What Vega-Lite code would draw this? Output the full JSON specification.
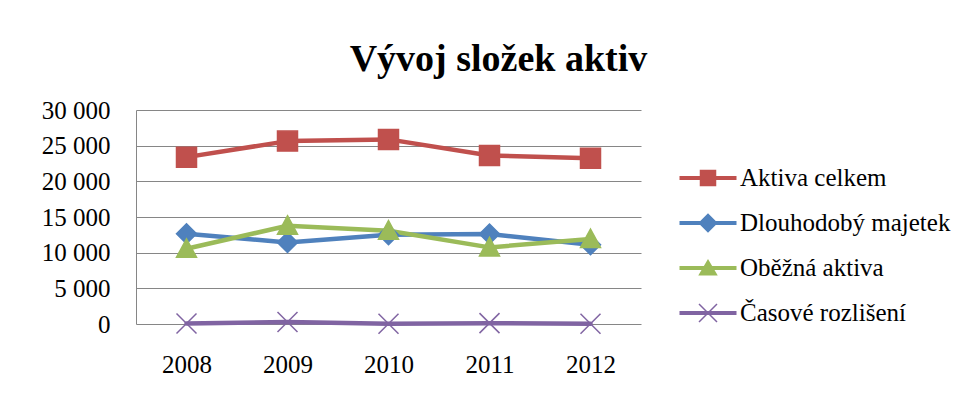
{
  "$schema": "https://vega.github.io/schema/vega-lite/v6.json",
  "autosize": "none",
  "width": 505,
  "height": 214,
  "padding": {"left": 136, "top": 110, "right": 335, "bottom": 77},
  "background": "white",
  "title": {
    "text": "Vývoj složek aktiv",
    "font": "Liberation Serif",
    "fontSize": 38,
    "fontWeight": "bold",
    "color": "black",
    "anchor": "middle",
    "frame": "group",
    "dx": 110,
    "offset": -11,
    "baseline": "alphabetic"
  },
  "config": {
    "view": {"stroke": null},
    "axis": {"labelFont": "Liberation Serif", "labelFontSize": 25, "labelColor": "black"}
  },
  "data": {
    "values": [
      {"rok": "2008", "serie": "Aktiva celkem", "hodnota": 23390},
      {"rok": "2009", "serie": "Aktiva celkem", "hodnota": 25640},
      {"rok": "2010", "serie": "Aktiva celkem", "hodnota": 25880},
      {"rok": "2011", "serie": "Aktiva celkem", "hodnota": 23630},
      {"rok": "2012", "serie": "Aktiva celkem", "hodnota": 23250},
      {"rok": "2008", "serie": "Dlouhodobý majetek", "hodnota": 12660},
      {"rok": "2009", "serie": "Dlouhodobý majetek", "hodnota": 11440},
      {"rok": "2010", "serie": "Dlouhodobý majetek", "hodnota": 12520},
      {"rok": "2011", "serie": "Dlouhodobý majetek", "hodnota": 12610},
      {"rok": "2012", "serie": "Dlouhodobý majetek", "hodnota": 11110},
      {"rok": "2008", "serie": "Oběžná aktiva", "hodnota": 10550},
      {"rok": "2009", "serie": "Oběžná aktiva", "hodnota": 13780},
      {"rok": "2010", "serie": "Oběžná aktiva", "hodnota": 13080},
      {"rok": "2011", "serie": "Oběžná aktiva", "hodnota": 10740},
      {"rok": "2012", "serie": "Oběžná aktiva", "hodnota": 11910},
      {"rok": "2008", "serie": "Časové rozlišení", "hodnota": 80},
      {"rok": "2009", "serie": "Časové rozlišení", "hodnota": 280},
      {"rok": "2010", "serie": "Časové rozlišení", "hodnota": 30},
      {"rok": "2011", "serie": "Časové rozlišení", "hodnota": 120},
      {"rok": "2012", "serie": "Časové rozlišení", "hodnota": 40}
    ]
  },
  "encoding": {
    "x": {
      "field": "rok",
      "type": "ordinal",
      "scale": {"type": "point", "padding": 0.5},
      "axis": {"title": null, "labelAngle": 0, "domain": false, "ticks": false, "labelPadding": 28, "grid": false}
    },
    "y": {
      "field": "hodnota",
      "type": "quantitative",
      "scale": {"domain": [0, 30000], "nice": false},
      "axis": {
        "title": null,
        "values": [0, 5000, 10000, 15000, 20000, 25000, 30000],
        "labelExpr": "replace(format(datum.value, ',d'), ',', ' ')",
        "grid": true,
        "gridColor": "#868686",
        "gridWidth": 1,
        "domain": true,
        "domainColor": "#868686",
        "ticks": false,
        "labelPadding": 26
      }
    }
  },
  "layer": [
    {
      "mark": {"type": "line", "strokeWidth": 4.5, "strokeCap": "round", "strokeJoin": "round"},
      "encoding": {
        "color": {
          "field": "serie",
          "type": "nominal",
          "scale": {
            "domain": ["Aktiva celkem", "Dlouhodobý majetek", "Oběžná aktiva", "Časové rozlišení"],
            "range": ["#C0504D", "#4F81BD", "#9BBB59", "#8064A2"]
          }
        }
      }
    },
    {
      "mark": {"type": "point", "filled": true, "opacity": 1, "strokeWidth": 1.5},
      "encoding": {
        "color": {
          "field": "serie",
          "type": "nominal",
          "scale": {
            "domain": ["Aktiva celkem", "Dlouhodobý majetek", "Oběžná aktiva", "Časové rozlišení"],
            "range": ["#C0504D", "#4F81BD", "#9BBB59", "#8064A2"]
          },
          "legend": {
            "title": null,
            "orient": "none",
            "legendX": 557,
            "legendY": 53,
            "padding": 0,
            "symbolSize": 900,
            "rowPadding": 17,
            "labelOffset": 17,
            "labelFont": "Liberation Serif",
            "labelFontSize": 25,
            "labelColor": "black",
            "labelLimit": 400,
            "symbolStrokeWidth": 0,
            "symbolOpacity": 1,
            "symbolType": {"expr": "datum.value === 'Aktiva celkem' ? 'M-1.9,-0.14L1.9,-0.14L1.9,0.14L-1.9,0.14Z M-0.55,-0.55L0.55,-0.55L0.55,0.55L-0.55,0.55Z' : datum.value === 'Dlouhodobý majetek' ? 'M-1.9,-0.14L1.9,-0.14L1.9,0.14L-1.9,0.14Z M0,-0.65L0.65,0L0,0.65L-0.65,0Z' : datum.value === 'Oběžná aktiva' ? 'M-1.9,-0.14L1.9,-0.14L1.9,0.14L-1.9,0.14Z M0,-0.6L0.65,0.5L-0.65,0.5Z' : 'M-1.9,-0.14L1.9,-0.14L1.9,0.14L-1.9,0.14Z M-0.565,-0.635L0.635,0.565L0.565,0.635L-0.635,-0.565Z M-0.635,0.565L0.565,-0.635L0.635,-0.565L-0.565,0.635Z'"},
            "symbolFillColor": {"expr": "datum.value === 'Aktiva celkem' ? '#C0504D' : datum.value === 'Dlouhodobý majetek' ? '#4F81BD' : datum.value === 'Oběžná aktiva' ? '#9BBB59' : '#8064A2'"}
          }
        },
        "stroke": {
          "field": "serie",
          "type": "nominal",
          "scale": {
            "domain": ["Dlouhodobý majetek", "Aktiva celkem", "Oběžná aktiva", "Časové rozlišení"],
            "range": ["#4F81BD", "#C0504D", "#9BBB59", "#8064A2"]
          },
          "legend": null
        },
        "shape": {
          "field": "serie",
          "type": "nominal",
          "scale": {
            "domain": ["Časové rozlišení", "Aktiva celkem", "Dlouhodobý majetek", "Oběžná aktiva"],
            "range": ["M-1,-1L1,1M-1,1L1,-1", "square", "diamond", "M0,-1L1,0.85L-1,0.85Z"]
          },
          "legend": null
        },
        "size": {"value": 400}
      }
    }
  ]
}
